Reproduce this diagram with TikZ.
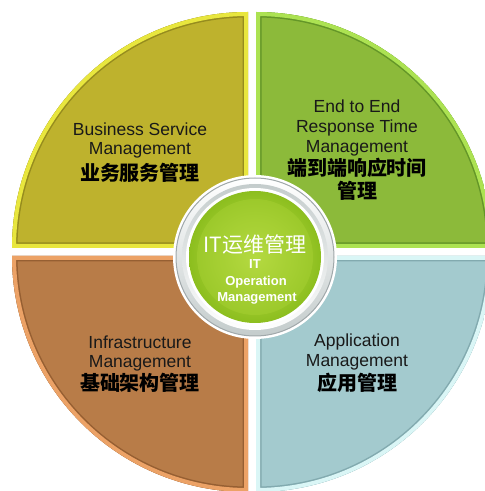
\documentclass[tikz,border=0pt]{standalone}
\usepackage{fontspec}
\setmainfont{Liberation Sans}
\newfontfamily\cjk{Noto Sans CJK SC}
\definecolor{tlbody}{RGB}{190,178,45}
\definecolor{tlrim}{RGB}{232,230,62}
\definecolor{tldark}{RGB}{150,140,30}
\definecolor{trbody}{RGB}{140,186,58}
\definecolor{trrim}{RGB}{172,226,82}
\definecolor{trdark}{RGB}{100,150,40}
\definecolor{blbody}{RGB}{184,124,72}
\definecolor{blrim}{RGB}{236,162,102}
\definecolor{bldark}{RGB}{150,95,50}
\definecolor{brbody}{RGB}{163,202,206}
\definecolor{brrim}{RGB}{218,246,246}
\definecolor{brdark}{RGB}{130,170,175}
\definecolor{hubgreen}{RGB}{166,208,50}
\definecolor{hubedge}{RGB}{140,190,30}
\definecolor{hubhi}{RGB}{196,228,80}
\definecolor{silver}{RGB}{196,204,204}
\definecolor{silverdk}{RGB}{160,168,170}
\definecolor{txt}{RGB}{25,25,25}
\tikzset{
  en/.style={font=\fontsize{17.5}{20}\selectfont, text=txt, inner sep=0pt, anchor=base},
  zh/.style={font=\fontsize{20}{22}\cjk\bfseries, text=black, inner sep=0pt, anchor=center},
  hubzh/.style={font=\fontsize{21}{23}\cjk, text=white, inner sep=0pt, anchor=center},
  huben/.style={font=\fontsize{13}{15}\selectfont\bfseries, text=white, inner sep=0pt, anchor=base}
}
\newcommand{\quadrant}[4]{%
  \begin{scope}
    \clip #1;
    \fill[#2] #1;
    \draw[#4, line width=11pt] #1;
    \draw[#3, line width=8pt] #1;
  \end{scope}}
\begin{document}
\begin{tikzpicture}[x=1pt,y=1pt]
\useasboundingbox (0,0) rectangle (485,491);
\clip (0,0) rectangle (485,491);
\fill[white] (0,0) rectangle (485,491);
% quadrants
\quadrant{(248,243) -- (12,243) arc[start angle=180,end angle=90,radius=236pt] -- cycle}{tlbody}{tlrim}{tldark}
\quadrant{(256,243) -- (256,479) arc[start angle=90,end angle=0,radius=236pt] -- cycle}{trbody}{trrim}{trdark}
\quadrant{(248,235) -- (248,-1) arc[start angle=270,end angle=180,radius=236pt] -- cycle}{blbody}{blrim}{bldark}
\quadrant{(256,235) -- (492,235) arc[start angle=0,end angle=-90,radius=236pt] -- cycle}{brbody}{brrim}{brdark}
% hub
\fill[white] (255,234) circle[radius=82pt];
\shade[top color=white, bottom color=silver, draw=silverdk, line width=1pt] (255,234) circle[radius=79pt];
\shade[top color=silver, bottom color=white] (255,234) circle[radius=73pt];
\fill[white] (255,234) circle[radius=69pt];
\shade[inner color=hubhi, outer color=hubedge] (255,234) circle[radius=66pt];
\fill[hubgreen, opacity=0.5] (255,234) circle[radius=58pt];
% texts
\node[en] (tl1) at (140,355) {Business Service};
\node[en] (tl2) at (140,336) {Management};
\node[zh] (tl3) at (140,318) {业务服务管理};
\node[en] (tr1) at (357,378) {End to End};
\node[en] (tr2) at (357,358) {Response Time};
\node[en] (tr3) at (357,338) {Management};
\node[zh] (tr4) at (357,323) {端到端响应时间};
\node[zh] (tr5) at (357,300) {管理};
\node[en] (bl1) at (140,142) {Infrastructure};
\node[en] (bl2) at (140,123) {Management};
\node[zh] (bl3) at (140,108) {基础架构管理};
\node[en] (br1) at (357,144) {Application};
\node[en] (br2) at (357,124) {Management};
\node[zh] (br3) at (357,108) {应用管理};
\node[hubzh] (c1) at (255,246) {IT运维管理};
\node[huben] (c2) at (255,222) {IT};
\node[huben] (c3) at (256,205) {Operation};
\node[huben] (c4) at (257,189) {Management};
\end{tikzpicture}
\end{document}
